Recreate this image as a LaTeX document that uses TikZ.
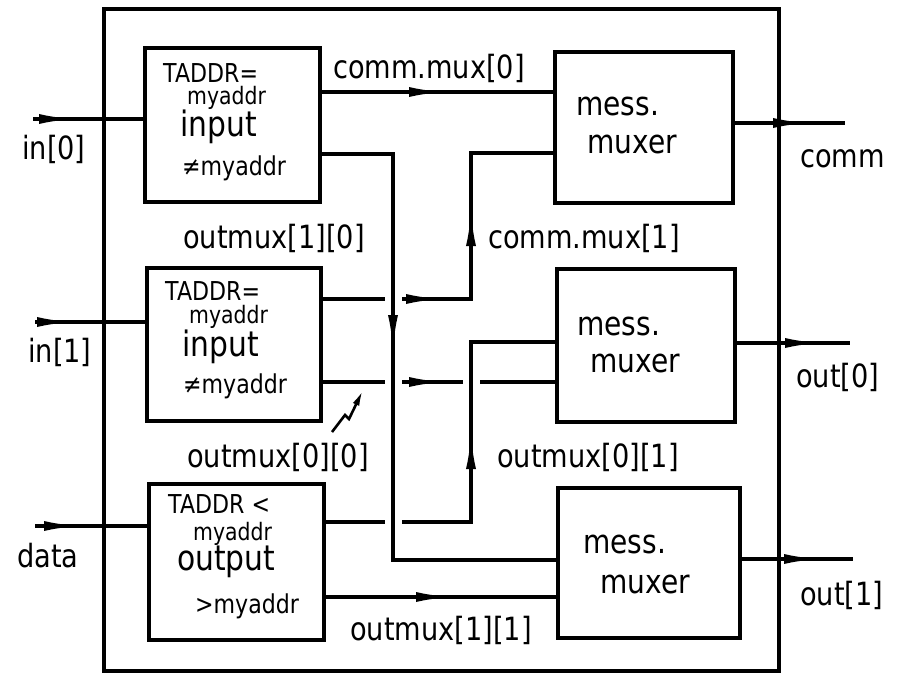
\documentclass[tikz,border=0pt]{standalone}
\usepackage{fontspec}
\setmainfont{DejaVu Sans}[FakeStretch=0.85]
\usetikzlibrary{arrows.meta,decorations.markings}

\pgfdeclarelayer{paper}
\pgfdeclarelayer{wires}
\pgfsetlayers{paper,wires,main}

\tikzset{
  x=1pt, y=-1pt,
  wire/.style={line width=3.2pt, line cap=butt},
  blk/.style={draw, line width=3.4pt, inner sep=0pt, outer sep=0pt},
  halo/.style={preaction={draw=white, line width=17pt}},
  lbl/.style={font=\fontsize{32}{36}\selectfont, inner sep=0pt, anchor=base west},
  tiny/.style={font=\fontsize{26}{30}\selectfont, inner sep=0pt, anchor=base west},
  addr/.style={font=\fontsize{24}{28}\selectfont, inner sep=0pt, anchor=base west},
  unitname/.style={font=\fontsize{35}{40}\selectfont, inner sep=0pt, anchor=base west},
  muxname/.style={font=\fontsize{33}{38}\selectfont, inner sep=0pt, anchor=base west},
  tipat/.style={postaction={decorate, decoration={markings,
      mark=at position #1 with {\arrow{Latex[length=36pt,width=10pt]}}}}},
}

\begin{document}
\begin{tikzpicture}
\begin{pgfonlayer}{paper}
\fill[white] (0,0) rectangle (914,675);
\end{pgfonlayer}
\useasboundingbox (0,0) rectangle (914,675);

% enclosing frame
\node[blk, minimum width=675pt, minimum height=662pt] (frame) at (441.5,340) {};

% functional blocks
\node[blk, fill=white, minimum width=175pt, minimum height=154pt] (in1) at (232.5,125) {};
\node[blk, fill=white, minimum width=174pt, minimum height=153pt] (in2) at (234,344.5) {};
\node[blk, fill=white, minimum width=175pt, minimum height=156pt] (outb) at (236.5,562) {};
\node[blk, fill=white, minimum width=178pt, minimum height=151pt] (mx1) at (644,127.5) {};
\node[blk, fill=white, minimum width=178pt, minimum height=153pt] (mx2) at (646,345.5) {};
\node[blk, fill=white, minimum width=182pt, minimum height=150pt] (mx3) at (649,563) {};

% signal levels and columns
\coordinate (s0) at (33,119);
\coordinate (s1) at (35,322);
\coordinate (s2) at (35,526);
\coordinate (e0) at (845,123);
\coordinate (e1) at (850,343);
\coordinate (e2) at (853,559);
\coordinate (lvA) at (0,92);
\coordinate (lvB1) at (0,154);
\coordinate (lvB2) at (0,560);
\coordinate (lvC1) at (0,299);
\coordinate (lvC2) at (0,153);
\coordinate (lvD1) at (0,522);
\coordinate (lvD2) at (0,342);
\coordinate (lvE) at (0,382);
\coordinate (lvF) at (0,597);
\coordinate (colB) at (393,0);
\coordinate (colC) at (471,0);

\begin{pgfonlayer}{wires}
% external inputs and outputs
\draw[wire, tipat=42pt] (s0) -- (in1.west |- s0);
\draw[wire, tipat=38pt] (s1) -- (in2.west |- s1);
\draw[wire, tipat=45pt] (s2) -- (outb.west |- s2);
\draw[wire, tipat=76pt] (mx1.east |- e0) -- (e0);
\draw[wire, tipat=86pt] (mx2.east |- e1) -- (e1);
\draw[wire, tipat=80pt] (mx3.east |- e2) -- (e2);

% internal connections (later ones break the earlier ones at crossings)
\draw[wire, tipat=125pt] (in1.east |- lvA) -- (mx1.west |- lvA);
\draw[wire, tipat=124pt] (in2.east |- lvE) -- (mx2.west |- lvE);
\draw[wire, halo, tipat=121pt, tipat=239pt]
  (in2.east |- lvC1) -- (colC |- lvC1) -- (colC |- lvC2) -- (mx1.west |- lvC2);
\draw[wire, halo, tipat=236pt]
  (outb.east |- lvD1) -- (colC |- lvD1) -- (colC |- lvD2) -- (mx2.west |- lvD2);
\draw[wire, halo, tipat=270pt]
  (in1.east |- lvB1) -- (colB |- lvB1) -- (colB |- lvB2) -- (mx3.west |- lvB2);
\draw[wire, tipat=128pt] (outb.east |- lvF) -- (mx3.west |- lvF);
\end{pgfonlayer}

% pointer mark for outmux[0][0]
\coordinate (z0) at (332,432);
\coordinate (z1) at (345,415);
\coordinate (z2) at (349,419);
\coordinate (z3) at (363,390);
\draw[line width=2.6pt, -{Latex[length=16pt,width=7pt]}] (z0) -- (z1) -- (z2) -- (z3);

% block texts
\node[tiny] (t1a) at (163,82) {TADDR=};
\node[addr] (t1b) at (187,104) {myaddr};
\node[unitname] (t1c) at (180,136) {input};
\node[tiny] (t1d) at (182,175) {≠myaddr};

\node[tiny] (t2a) at (165,300) {TADDR=};
\node[addr] (t2b) at (189,323) {myaddr};
\node[unitname] (t2c) at (182,356) {input};
\node[tiny] (t2d) at (183,393) {≠myaddr};

\node[tiny] (t3a) at (168,513) {TADDR <};
\node[addr] (t3b) at (193,540) {myaddr};
\node[unitname] (t3c) at (177,570) {output};
\node[tiny] (t3d) at (195,613) {>myaddr};

\node[muxname] (m1a) at (576,115) {mess.};
\node[muxname] (m1b) at (587,153) {muxer};
\node[muxname] (m2a) at (577,335) {mess.};
\node[muxname] (m2b) at (590,372) {muxer};
\node[muxname] (m3a) at (583,553) {mess.};
\node[muxname] (m3b) at (600,593) {muxer};

% signal labels
\node[lbl] (l0) at (22,159) {in[0]};
\node[lbl] (l1) at (28,362) {in[1]};
\node[lbl] (l2) at (17,567) {data};
\node[lbl] (l3) at (800,167) {comm};
\node[lbl] (l4) at (796,387) {out[0]};
\node[lbl] (l5) at (800,605) {out[1]};
\node[lbl] (l6) at (333,78) {comm.mux[0]};
\node[lbl] (l7) at (183,248) {outmux[1][0]};
\node[lbl] (l8) at (488,248) {comm.mux[1]};
\node[lbl] (l9) at (187,467) {outmux[0][0]};
\node[lbl] (l10) at (497,467) {outmux[0][1]};
\node[lbl] (l11) at (350,640) {outmux[1][1]};
\end{tikzpicture}
\end{document}
